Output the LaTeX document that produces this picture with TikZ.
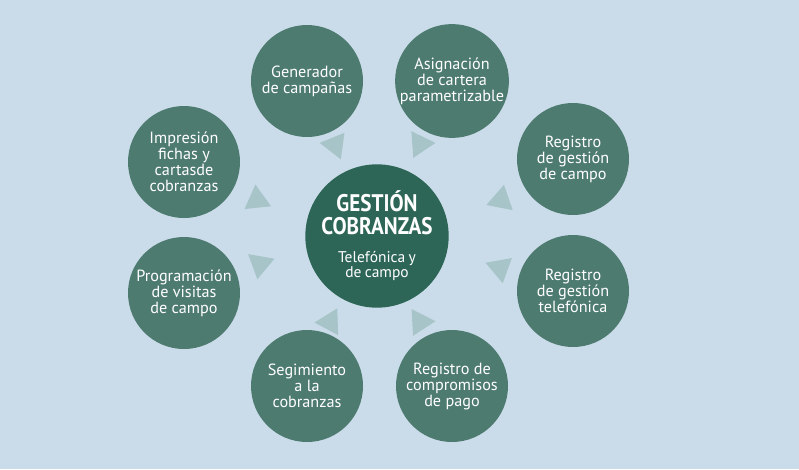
\documentclass[tikz,border=0pt]{standalone}
\usepackage{fontspec}
\setmainfont{PT Sans}
\newfontfamily\titlefont[FakeStretch=0.88]{PT Sans}
\usepackage{tikz}

\definecolor{backblue}{HTML}{CADCE9}
\definecolor{petalgreen}{HTML}{4E7B70}
\definecolor{hubgreen}{HTML}{2D6657}
\definecolor{pointergrey}{HTML}{A7C4C9}

\tikzset{
  petal/.style = {circle, fill=petalgreen, text=white, inner sep=0pt,
                  minimum size=112pt, align=center,
                  font={\fontsize{16.2}{16}\selectfont}},
  hub/.style   = {circle, fill=hubgreen, text=white, inner sep=0pt,
                  minimum size=140pt, text width=112pt, align=center},
  pointer/.style = {fill=pointergrey}
}

\begin{document}
\begin{tikzpicture}[x=1pt, y=-1pt]
\useasboundingbox (0,0) rectangle (799,469);
\fill[backblue] (0,0) rectangle (799,469);

% centre
\node (hub) [hub] at (377,236) {{\titlefont\bfseries\fontsize{24}{23}\selectfont GESTIÓN\\COBRANZAS\par}\vspace{13pt}{\fontsize{15.5}{15}\selectfont Telefónica y\\de campo\par}};

% ring of tasks
\node (gen) [petal] at (307,81) {Generador\\de campañas};
\node (asig) [petal] at (452,81) {Asignación\\de cartera\\parametrizable};
\node (campo) [petal] at (573,159) {Registro\\de gestión\\de campo};
\node (tel) [petal] at (573,291) {Registro\\de gestión\\telefónica};
\node (pago) [petal] at (452,386) {Registro de\\compromisos\\de pago};
\node (seg) [petal] at (307,386) {Segimiento\\a la\\cobranzas};
\node (visitas) [petal] at (184,293) {Programación\\de visitas\\de campo};
\node (fichas) [petal] at (184,162) {Impresión\\fichas y\\cartasde\\cobranzas};

% small triangles between the circles
\foreach \x/\y/\a in {335/145/188, 420/144/356, 501/200/281, 500/268/80,
                      420/322/357, 330/322/178, 260/264/100, 257/200/264}
  \fill[pointer] (\x,\y) ++(\a:15.5) -- ++(\a+150:26.8) -- ++(\a+270:26.8) -- cycle;
\end{tikzpicture}
\end{document}
